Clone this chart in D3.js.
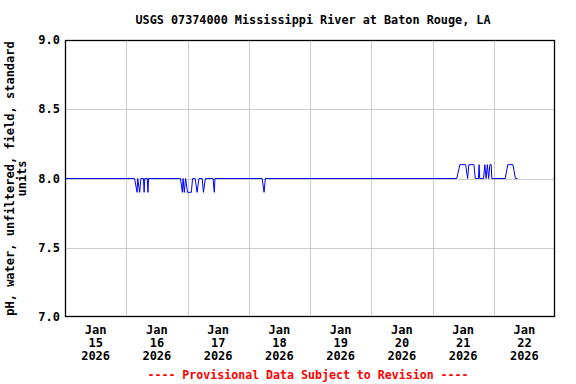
<!DOCTYPE html>
<html><head><meta charset="utf-8">
<script src="https://cdn.jsdelivr.net/npm/d3@7"></script>
<style>body{margin:0;background:#fff}svg{display:block}text{font-family:"DejaVu Sans Mono",monospace;font-weight:bold}</style>
</head><body><svg id="c" width="576" height="384"></svg>
<script>
const title = "USGS 07374000 Mississippi River at Baton Rouge, LA";
const yLabel1 = "pH, water, unfiltered, field, standard";
const yLabel2 = "units";
const footer = "---- Provisional Data Subject to Revision ----";
const yTicks = [7.0, 7.5, 8.0, 8.5, 9.0];
const dayTicks = ["2026-01-15","2026-01-16","2026-01-17","2026-01-18","2026-01-19","2026-01-20","2026-01-21","2026-01-22"];
const times = [
 "2026-01-15T00:00",
 "2026-01-16T03:15","2026-01-16T04:15","2026-01-16T04:30","2026-01-16T05:15","2026-01-16T05:45",
 "2026-01-16T06:45","2026-01-16T07:00","2026-01-16T07:15","2026-01-16T08:15","2026-01-16T08:30","2026-01-16T08:45",
 "2026-01-16T21:15","2026-01-16T22:00","2026-01-16T22:15","2026-01-16T22:45","2026-01-16T23:15",
 "2026-01-17T00:00","2026-01-17T01:30","2026-01-17T02:00","2026-01-17T03:00","2026-01-17T03:45","2026-01-17T04:30",
 "2026-01-17T05:45","2026-01-17T06:15","2026-01-17T07:00","2026-01-17T10:00","2026-01-17T10:30","2026-01-17T10:45",
 "2026-01-18T05:15","2026-01-18T06:00","2026-01-18T06:30",
 "2026-01-21T09:30","2026-01-21T10:45","2026-01-21T13:00","2026-01-21T13:45","2026-01-21T14:15","2026-01-21T16:15",
 "2026-01-21T16:45","2026-01-21T18:00","2026-01-21T18:15","2026-01-21T18:30","2026-01-21T20:00","2026-01-21T20:30",
 "2026-01-21T21:00","2026-01-21T21:30","2026-01-21T22:00","2026-01-21T22:30","2026-01-21T23:00","2026-01-21T23:15",
 "2026-01-22T04:30","2026-01-22T05:30","2026-01-22T07:30","2026-01-22T08:30","2026-01-22T09:15"
];
const values = [
 8.0,
 8.0,7.9,8.0,7.9,8.0,
 8.0,7.9,8.0,8.0,7.9,8.0,
 8.0,7.9,8.0,7.9,8.0,
 7.9,7.9,8.0,8.0,7.9,8.0,
 8.0,7.9,8.0,8.0,7.9,8.0,
 8.0,7.9,8.0,
 8.0,8.1,8.1,8.0,8.1,8.1,
 8.0,8.0,8.1,8.0,8.0,8.1,
 8.0,8.1,8.0,8.1,8.1,8.0,
 8.0,8.1,8.1,8.0,8.0
];

const parse = d3.timeParse("%Y-%m-%dT%H:%M");
const parseDay = d3.timeParse("%Y-%m-%d");
const data = times.map((t,i)=>({t:parse(t), v:values[i]}));
const L=65, R=555, T=40, B=317;
const x = d3.scaleTime().domain([parseDay("2026-01-15"), parseDay("2026-01-23")]).range([L,R]);
const y = d3.scaleLinear().domain([7,9]).range([B,T]);
const svg = d3.select("#c");

const days = dayTicks.map(parseDay);
svg.append("g").selectAll("line").data(days.slice(1)).join("line")
  .attr("x1",d=>Math.round(x(d))+0.5).attr("x2",d=>Math.round(x(d))+0.5).attr("y1",T).attr("y2",B)
  .attr("stroke","#cccccc").attr("stroke-width",1);
svg.append("g").selectAll("line").data(yTicks.slice(1,-1)).join("line")
  .attr("x1",L).attr("x2",R).attr("y1",d=>Math.round(y(d))+0.5).attr("y2",d=>Math.round(y(d))+0.5)
  .attr("stroke","#cccccc").attr("stroke-width",1);

svg.append("path").datum(data)
  .attr("d", d3.line().x(d=>x(d.t)).y(d=>y(d.v)))
  .attr("fill","none").attr("stroke","#0000ff").attr("stroke-width",1);

svg.append("rect").attr("x",L+0.5).attr("y",T+0.5).attr("width",R-L-1).attr("height",B-T-1)
  .attr("fill","none").attr("stroke","#000").attr("stroke-width",1.3);

svg.append("g").selectAll("text").data(yTicks).join("text")
  .attr("x",L-5).attr("y",d=>y(d)+4).attr("text-anchor","end")
  .attr("font-size","12px").text(d=>d3.format(".1f")(d));

const fmtD = d3.timeFormat("%d");
const xl = svg.append("g").selectAll("g").data(days).join("g")
  .attr("transform",d=>`translate(${x(d3.timeHour.offset(d,12))},0)`);
xl.append("text").attr("y",334).attr("text-anchor","middle").attr("font-size","12px").text("Jan");
xl.append("text").attr("y",347).attr("text-anchor","middle").attr("font-size","12px").text(d=>fmtD(d));
xl.append("text").attr("y",360).attr("text-anchor","middle").attr("font-size","12px").text(d=>d.getFullYear());

const yl = svg.append("text").attr("transform",`translate(14,${(T+B)/2}) rotate(-90)`)
  .attr("text-anchor","middle").attr("font-size","12px");
yl.append("tspan").attr("x",0).attr("y",0).text(yLabel1);
yl.append("tspan").attr("x",0).attr("y",12).text(yLabel2);

svg.append("text").attr("x",(L+R)/2+3).attr("y",24).attr("text-anchor","middle").attr("font-size","11.8px").text(title);
svg.append("text").attr("x",(L+R)/2-2).attr("y",379).attr("text-anchor","middle").attr("font-size","11.6px")
  .attr("fill","#ff0000").text(footer);
</script></body></html>
